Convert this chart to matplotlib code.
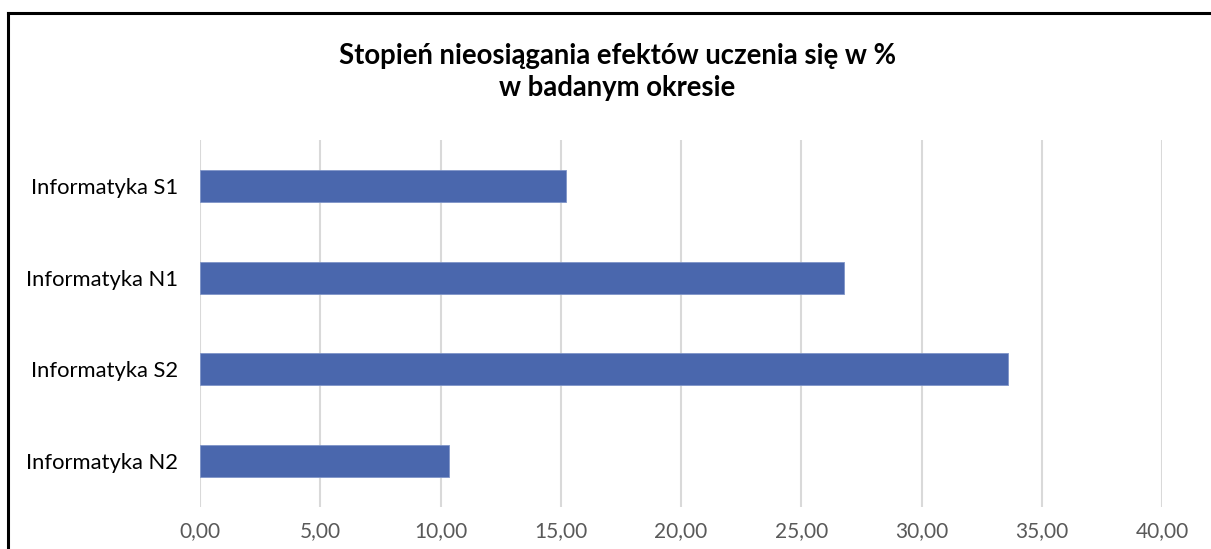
import matplotlib
matplotlib.use("Agg")
import matplotlib.pyplot as plt
from matplotlib.lines import Line2D

categories = ["Informatyka S1", "Informatyka N1", "Informatyka S2", "Informatyka N2"]
values = [15.21, 26.76, 33.60, 10.37]
xticks = [0, 5, 10, 15, 20, 25, 30, 35, 40]
title = "Stopień nieosiągania efektów uczenia się w %\nw badanym okresie"

plt.rcParams['font.family'] = ['Lato', 'DejaVu Sans']

W, H = 1211, 549
fig = plt.figure(figsize=(W / 100, H / 100), dpi=100)
ax = fig.add_axes([200 / W, 1 - 507 / H, 962 / W, 367 / H])

ypos = list(range(len(categories)))
ax.barh(ypos, values, height=0.35, color="#4a67ad", edgecolor="#7f95c8", linewidth=0.6, zorder=3)
ax.set_ylim(len(categories) - 0.5, -0.5)
ax.set_yticks(ypos)
ax.set_yticklabels(categories, fontsize=15.8, color="#000000")
ax.set_xlim(0, 40)
ax.set_xticks(xticks)
ax.set_xticklabels([f"{t:.2f}".replace(".", ",") for t in xticks], fontsize=15, color="#595959")
ax.tick_params(axis="both", length=0)
ax.tick_params(axis="x", pad=10)
ax.tick_params(axis="y", pad=16)
ax.grid(axis="x", color="#d9d9d9", linewidth=1.5, zorder=0)
for s in ax.spines.values():
    s.set_visible(False)

fig.text(0.5 + 12 / W, 1 - 72 / H, title, ha="center", va="center",
         fontsize=19.8, fontweight="bold", linespacing=1.25, transform=fig.transFigure)

# outer frame (top and left edges visible)
fig.add_artist(Line2D([8 / W, 8 / W], [0, 1 - 13 / H], color="black", linewidth=2.2, transform=fig.transFigure))
fig.add_artist(Line2D([8 / W, 1], [1 - 13 / H, 1 - 13 / H], color="black", linewidth=2.2, transform=fig.transFigure))

fig.savefig("out.png", dpi=100, facecolor="white")
